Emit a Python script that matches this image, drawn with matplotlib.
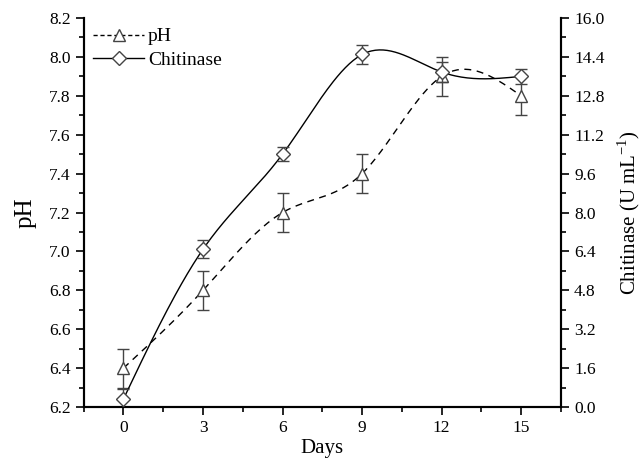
import numpy as np
import matplotlib
matplotlib.use('Agg')
from matplotlib import pyplot as plt
from matplotlib.ticker import MultipleLocator, FormatStrFormatter
from matplotlib.lines import Line2D

plt.rcParams['font.family'] = 'Liberation Serif'
plt.rcParams['mathtext.fontset'] = 'custom'
plt.rcParams['mathtext.rm'] = 'Liberation Serif'

days = [0, 3, 6, 9, 12, 15]
ph = [6.40, 6.80, 7.20, 7.40, 7.90, 7.80]
ph_err = [0.10, 0.10, 0.10, 0.10, 0.10, 0.10]
chitinase = [0.33, 6.49, 10.40, 14.50, 13.78, 13.60]
chitinase_err = [0.40, 0.38, 0.30, 0.38, 0.40, 0.30]


def smooth(x, y, n=200):
    '''Natural cubic spline through the points, for drawing the curve'''
    x = np.asarray(x, float)
    y = np.asarray(y, float)
    k = len(x)
    h = np.diff(x)
    A = np.zeros((k, k))
    b = np.zeros(k)
    A[0, 0] = A[-1, -1] = 1
    for i in range(1, k - 1):
        A[i, i - 1] = h[i - 1]
        A[i, i] = 2 * (h[i - 1] + h[i])
        A[i, i + 1] = h[i]
        b[i] = 6 * ((y[i + 1] - y[i]) / h[i] - (y[i] - y[i - 1]) / h[i - 1])
    m = np.linalg.solve(A, b)
    xs = np.linspace(x[0], x[-1], n)
    idx = np.clip(np.searchsorted(x, xs) - 1, 0, k - 2)
    t0 = xs - x[idx]
    t1 = x[idx + 1] - xs
    hi = h[idx]
    ys = (m[idx] * t1 ** 3 + m[idx + 1] * t0 ** 3) / (6 * hi) \
        + (y[idx] / hi - m[idx] * hi / 6) * t1 \
        + (y[idx + 1] / hi - m[idx + 1] * hi / 6) * t0
    return xs, ys


fig = plt.figure(figsize=(6.44, 4.62), dpi=100)
ax = fig.add_axes([0.130, 0.119, 0.741, 0.842])
ax2 = ax.twinx()

# pH curve
xs, ys = smooth(days, ph)
ax.plot(xs, ys, c='black', ls=(0, (5, 4)), lw=1.0, zorder=2)
ax.errorbar(days, ph, yerr=ph_err, fmt='none', ecolor='#444444',
            elinewidth=1.0, capsize=4, capthick=1.0, zorder=3)
ax.plot(days, ph, ls='none', marker='^', ms=9, mfc='white',
        mec='#444444', mew=1.0, zorder=4)

# chitinase curve
xs, ys = smooth(days, chitinase)
ax2.plot(xs, ys, c='black', lw=1.0, zorder=2)
ax2.errorbar(days, chitinase, yerr=chitinase_err, fmt='none',
             ecolor='#444444', elinewidth=1.0, capsize=4, capthick=1.0,
             zorder=3)
ax2.plot(days, chitinase, ls='none', marker='D', ms=7, mfc='white',
         mec='#444444', mew=1.0, zorder=4)

# axes format
ax.set_xlim(-1.5, 16.5)
ax.set_ylim(6.2, 8.2)
ax2.set_ylim(0, 16)
ax.set_xticks(days)
ax.xaxis.set_minor_locator(MultipleLocator(1.5))
ax.yaxis.set_major_locator(MultipleLocator(0.2))
ax.yaxis.set_minor_locator(MultipleLocator(0.1))
ax.yaxis.set_major_formatter(FormatStrFormatter('%.1f'))
ax2.yaxis.set_major_locator(MultipleLocator(1.6))
ax2.yaxis.set_minor_locator(MultipleLocator(0.8))
ax2.yaxis.set_major_formatter(FormatStrFormatter('%.1f'))

for a in (ax, ax2):
    a.spines['top'].set_visible(False)
    for s in a.spines.values():
        s.set_linewidth(1.5)
    a.tick_params(which='major', direction='out', length=6, width=1.2,
                  labelsize=12.5)
    a.tick_params(which='minor', direction='out', length=3.5, width=1.2)

ax.set_xlabel('Days', fontsize=15, labelpad=2)
ax.set_ylabel('pH', fontsize=18, labelpad=9)
ax2.set_ylabel('Chitinase (U mL$^{\\mathrm{-1}}$)', fontsize=15, labelpad=8)

handles = [
    Line2D([], [], c='black', ls=(0, (3, 2)), lw=1.0, marker='^', ms=9,
           mfc='white', mec='#444444'),
    Line2D([], [], c='black', lw=1.0, marker='D', ms=7, mfc='white',
           mec='#444444'),
]
ax.legend(handles, ['pH', 'Chitinase'], loc='upper left', frameon=False,
          fontsize=14, numpoints=1, handlelength=2.6, handletextpad=0.2,
          borderaxespad=0.1, labelspacing=0.3)

plt.savefig('out.png', dpi=100)
